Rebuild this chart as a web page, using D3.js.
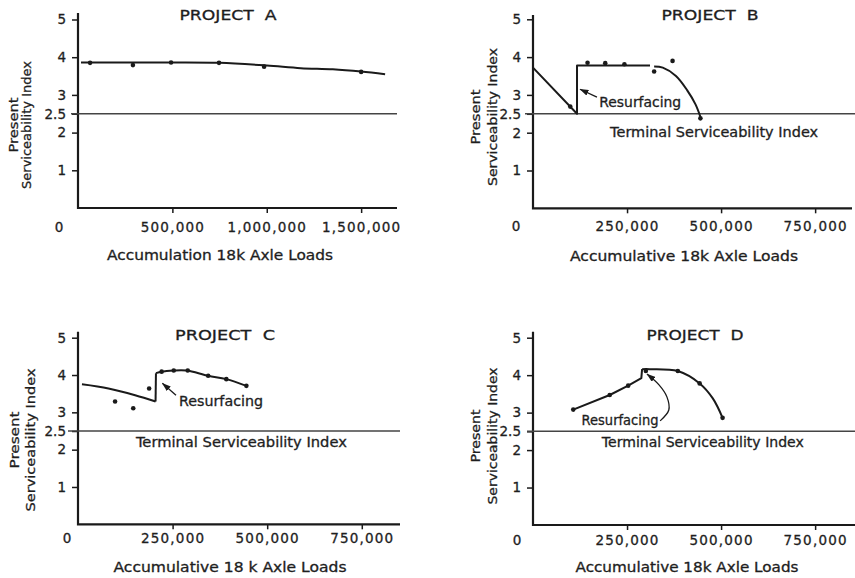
<!DOCTYPE html>
<html>
<head>
<meta charset="utf-8">
<script src="https://cdn.jsdelivr.net/npm/d3@7"></script>
<style>
body { margin: 0; background: #fff; }
svg { display: block; font-family: "DejaVu Sans", sans-serif; }
text { fill: #1e1e1e; stroke: #1e1e1e; stroke-width: 0.3px; }
</style>
</head>
<body>
<div id="hook"></div>
<script>
'use strict';

// y axis (present serviceability index)
var yTicks = [1, 2, 2.5, 3, 4, 5];
var terminalIndex = 2.5;

// x axis ticks
var xTicksA = [500000, 1000000, 1500000];
var xTicksBCD = [250000, 500000, 750000];

// Project A
var curveA = [[16000, 3.86], [250000, 3.86], [500000, 3.86], [750000, 3.85], [1000000, 3.78],
  [1180000, 3.71], [1350000, 3.68], [1500000, 3.62], [1627000, 3.55]];
var pointsA = [[64000, 3.85], [291000, 3.79], [493000, 3.86], [747000, 3.85], [986000, 3.75], [1500000, 3.61]];

// Project B
var dropB = [[0, 3.72], [117000, 2.5], [117000, 3.78], [311000, 3.78]];
var arcB = [[322000, 3.75], [345000, 3.72], [380000, 3.5], [410000, 3.12], [432000, 2.75], [445000, 2.42]];
var pointsB = [[99000, 2.69], [145000, 3.85], [192000, 3.84], [243000, 3.81], [322000, 3.62], [371000, 3.9], [445000, 2.38]];

// Project C
var dropC = [[10500, 3.75], [80500, 3.64], [151000, 3.46], [205000, 3.29]];
var jumpC = [[205000, 3.29], [206000, 4.05]];
var riseC = [[206000, 4.05], [221000, 4.09], [252000, 4.12], [287000, 4.12], [344000, 3.98], [392000, 3.89], [445000, 3.71]];
var pointsC = [[98000, 3.29], [146000, 3.11], [188000, 3.64], [221000, 4.09], [253000, 4.12], [290000, 4.12],
  [344000, 3.98], [392000, 3.89], [445000, 3.71]];

// Project D
var riseD = [[107000, 3.08], [204000, 3.47], [253000, 3.72], [288000, 3.92], [290000, 4.16]];
var arcD = [[290000, 4.16], [310000, 4.16], [385000, 4.11], [443000, 3.78], [478000, 3.38], [504000, 2.86]];
var pointsD = [[107000, 3.08], [204000, 3.47], [253000, 3.72], [300000, 4.11], [385000, 4.11], [443000, 3.78], [504000, 2.86]];

var panels = [
  { title: 'PROJECT  A', titleX: 228, titleY: 20, titleW: 97,
    xLabel: 'Accumulation 18k Axle Loads', xLabelX: 220, xLabelY: 260, xLabelW: 226,
    xTicks: xTicksA, xMax: 1690000, left: 78, right: 397, top: 19.5, bottom: 208, axisTop: 13,
    tickPad: 9, zeroX: 59, lineLeft: 71, yLab: [13, 26, 125, 55, 128],
    series: [{ d: curveA, c: d3.curveCatmullRom }], points: pointsA },
  { title: 'PROJECT  B', titleX: 710, titleY: 20, titleW: 97,
    xLabel: 'Accumulative 18k Axle Loads', xLabelX: 684, xLabelY: 261, xLabelW: 228,
    xTicks: xTicksBCD, xMax: 848000, left: 533, right: 852, top: 19.3, bottom: 208.3, axisTop: 15,
    tickPad: 8.5, zeroX: 516, lineLeft: 525, lineRight: 855, yLab: [475, 492, 117, 55, 138],
    series: [{ d: dropB, c: d3.curveLinear }, { d: arcB, c: d3.curveCatmullRom }], points: pointsB,
    resurf: { at: [176000, 2.82], w: 82, arrow: [[170000, 2.94], [125000, 3.15]] },
    terminal: { at: [205000, 2.02], w: 208 } },
  { title: 'PROJECT  C', titleX: 225, titleY: 340, titleW: 100,
    xLabel: 'Accumulative 18 k Axle Loads', xLabelX: 230, xLabelY: 571.5, xLabelW: 233,
    xTicks: xTicksBCD, xMax: 851000, left: 78, right: 400, top: 337.7, bottom: 524.3, axisTop: 331.7,
    tickPad: 4.5, zeroX: 67, lineLeft: 68, yLab: [14, 30, 440, 57, 143],
    series: [{ d: dropC, c: d3.curveCatmullRom }, { d: jumpC, c: d3.curveLinear }, { d: riseC, c: d3.curveCatmullRom }],
    points: pointsC,
    resurf: { at: [267000, 3.29], w: 84, arrow: [[259000, 3.46], [223000, 3.78]] },
    terminal: { at: [153000, 2.21], w: 211 } },
  { title: 'PROJECT  D', titleX: 695, titleY: 340, titleW: 97,
    xLabel: 'Accumulative 18k Axle Loads', xLabelX: 687, xLabelY: 571.5, xLabelW: 223,
    xTicks: xTicksBCD, xMax: 856000, left: 533, right: 855, top: 337.7, bottom: 525, axisTop: 331.7,
    tickPad: 5.5, zeroX: 517, lineLeft: 527, yLab: [475, 492, 436, 53, 137],
    series: [{ d: riseD, c: d3.curveLinear }, { d: arcD, c: d3.curveCatmullRom }], points: pointsD,
    resurf: { at: [129000, 2.8], w: 77,
      arrow: [[338000, 2.78], [361000, 3.07], [356000, 3.42], [335000, 3.74], [303000, 4.03]], curved: true },
    terminal: { at: [183000, 2.22], w: 202 } }
];

var ink = '#1a1a1a';

var svg = d3.select('#hook')
  .append('svg')
  .attr('width', 855)
  .attr('height', 578);

svg.append('defs').append('marker')
  .attr('id', 'head')
  .attr('viewBox', '0 0 9 6')
  .attr('refX', 8.5)
  .attr('refY', 3)
  .attr('markerWidth', 9)
  .attr('markerHeight', 6)
  .attr('markerUnits', 'userSpaceOnUse')
  .attr('orient', 'auto')
  .append('path')
  .attr('d', 'M0,0 L9,3 L0,6 z')
  .style('fill', ink);

function drawPanel(p) {
  var g = svg.append('g');
  var x = d3.scaleLinear().domain([0, p.xMax]).range([p.left, p.right]);
  var y = d3.scaleLinear().domain([0, 5]).range([p.bottom, p.top]);

  // y axis
  var yAxis = d3.axisLeft(y).tickValues(yTicks).tickSize(6).tickPadding(6)
    .tickFormat(d3.format(''));
  var ya = g.append('g').attr('transform', 'translate(' + p.left + ',0)').call(yAxis);
  ya.select('.domain').remove();
  ya.selectAll('line').style('stroke', ink).style('stroke-width', 1.5);
  ya.selectAll('text').style('font-size', '13.5px').style('font-family', '"DejaVu Sans", sans-serif')
    .style('fill', '#1e1e1e');

  // x axis
  var xAxis = d3.axisBottom(x).tickValues(p.xTicks).tickSize(5).tickPadding(p.tickPad)
    .tickFormat(d3.format(','));
  var xa = g.append('g').attr('transform', 'translate(0,' + p.bottom + ')').call(xAxis);
  xa.select('.domain').remove();
  xa.selectAll('line').style('stroke', ink).style('stroke-width', 1.5);
  xa.selectAll('text').style('font-size', '13.5px').style('font-family', '"DejaVu Sans", sans-serif')
    .style('letter-spacing', '1.2px').style('fill', '#1e1e1e');

  g.append('text')
    .attr('x', p.zeroX).attr('y', p.bottom + 5 + p.tickPad)
    .attr('dy', '0.71em')
    .attr('text-anchor', 'middle')
    .style('font-size', '13.5px')
    .text('0');

  // axis lines
  g.append('path')
    .attr('d', 'M' + p.left + ',' + p.axisTop + 'V' + p.bottom + 'H' + p.right)
    .style('fill', 'none').style('stroke', ink).style('stroke-width', 2.2);

  // terminal serviceability line
  g.append('line')
    .attr('x1', p.lineLeft).attr('x2', p.lineRight || p.right)
    .attr('y1', y(terminalIndex)).attr('y2', y(terminalIndex))
    .style('stroke', '#444').style('stroke-width', 1.5);

  // data lines
  p.series.forEach(function(s) {
    var line = d3.line().x(function(d) { return x(d[0]); }).y(function(d) { return y(d[1]); }).curve(s.c);
    g.append('path').attr('d', line(s.d))
      .style('fill', 'none').style('stroke', ink).style('stroke-width', 2)
      .style('stroke-linejoin', 'round');
  });

  g.selectAll('circle.pt').data(p.points).enter().append('circle')
    .attr('class', 'pt')
    .attr('cx', function(d) { return x(d[0]); })
    .attr('cy', function(d) { return y(d[1]); })
    .attr('r', 2.3)
    .style('fill', ink);

  // labels
  g.append('text')
    .attr('x', p.titleX - p.titleW / 2).attr('y', p.titleY)
    .attr('textLength', p.titleW).attr('lengthAdjust', 'spacingAndGlyphs')
    .style('font-size', '14px')
    .style('white-space', 'pre')
    .text(p.title);

  g.append('text')
    .attr('x', p.xLabelX - p.xLabelW / 2).attr('y', p.xLabelY)
    .attr('textLength', p.xLabelW).attr('lengthAdjust', 'spacingAndGlyphs')
    .style('font-size', '13.5px')
    .text(p.xLabel);

  var yl = p.yLab;
  g.append('text')
    .attr('transform', 'translate(' + yl[0] + ',' + yl[2] + ') rotate(-90)')
    .attr('x', -yl[3] / 2).attr('dy', '0.36em')
    .attr('textLength', yl[3]).attr('lengthAdjust', 'spacingAndGlyphs')
    .style('font-size', '13px')
    .text('Present');
  g.append('text')
    .attr('transform', 'translate(' + yl[1] + ',' + yl[2] + ') rotate(-90)')
    .attr('x', -yl[4] / 2).attr('dy', '0.36em')
    .attr('textLength', yl[4]).attr('lengthAdjust', 'spacingAndGlyphs')
    .style('font-size', '13px')
    .text('Serviceability Index');

  if (p.terminal) {
    g.append('text')
      .attr('x', x(p.terminal.at[0])).attr('y', y(p.terminal.at[1]))
      .attr('dy', '0.36em')
      .attr('textLength', p.terminal.w).attr('lengthAdjust', 'spacingAndGlyphs')
      .style('font-size', '13.5px')
      .text('Terminal Serviceability Index');
  }

  if (p.resurf) {
    g.append('text')
      .attr('x', x(p.resurf.at[0])).attr('y', y(p.resurf.at[1]))
      .attr('dy', '0.36em')
      .attr('textLength', p.resurf.w).attr('lengthAdjust', 'spacingAndGlyphs')
      .style('font-size', '13.5px')
      .text('Resurfacing');
    var arrow = d3.line().x(function(d) { return x(d[0]); }).y(function(d) { return y(d[1]); })
      .curve(p.resurf.curved ? d3.curveCatmullRom : d3.curveLinear);
    g.append('path').attr('d', arrow(p.resurf.arrow))
      .attr('marker-end', 'url(#head)')
      .style('fill', 'none').style('stroke', ink).style('stroke-width', 1.3);
  }
}

panels.forEach(drawPanel);
</script>
</body>
</html>
